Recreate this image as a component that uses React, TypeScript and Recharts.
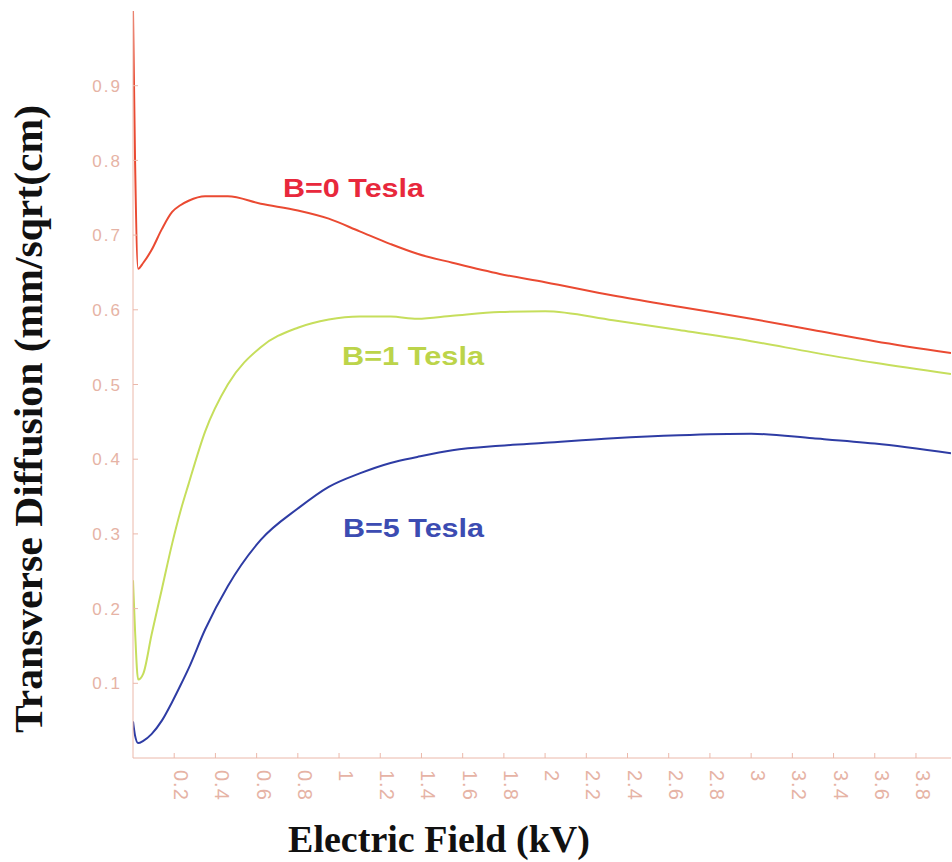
import React from 'react';
import { LineChart, Line, XAxis, YAxis } from 'recharts';

// electric field (kV) sample points, shared by all three curves
const fieldKV = [
  0, 0.01, 0.025, 0.05, 0.09, 0.14, 0.19, 0.23, 0.27, 0.35, 0.46, 0.62, 0.8, 0.95,
  1.1, 1.25, 1.38, 1.55, 1.78, 2.0, 2.33, 2.65, 3.0, 3.3, 3.6, 3.97,
];

const diffB0 = [
  1.0, 0.8, 0.655, 0.663, 0.68, 0.708, 0.731, 0.74, 0.746, 0.752, 0.752, 0.742, 0.733, 0.722,
  0.705, 0.688, 0.675, 0.663, 0.648, 0.637, 0.619, 0.604, 0.588, 0.573, 0.558, 0.542,
];

const diffB1 = [
  0.238, 0.17, 0.105, 0.113, 0.165, 0.226, 0.287, 0.33, 0.367, 0.437, 0.5, 0.55, 0.576, 0.587,
  0.591, 0.591, 0.588, 0.592, 0.597, 0.598, 0.586, 0.573, 0.558, 0.543, 0.529, 0.514,
];

const diffB5 = [
  0.049, 0.03, 0.02, 0.023, 0.032, 0.05, 0.075, 0.097, 0.12, 0.172, 0.23, 0.292, 0.334, 0.363,
  0.381, 0.395, 0.403, 0.412, 0.418, 0.422, 0.428, 0.432, 0.434, 0.428, 0.421, 0.408,
];

const xTicks = [
  0.2, 0.4, 0.6, 0.8, 1, 1.2, 1.4, 1.6, 1.8, 2, 2.2, 2.4, 2.6, 2.8, 3, 3.2, 3.4, 3.6, 3.8,
];
const yTicks = [0.1, 0.2, 0.3, 0.4, 0.5, 0.6, 0.7, 0.8, 0.9];

const data = fieldKV.map((f, i) => ({
  field: f,
  b0: diffB0[i],
  b1: diffB1[i],
  b5: diffB5[i],
}));

const axisColor = '#ebb8aa';
const tickTextColor = '#e6b3a5';

const BottomTick = (props: any) => {
  const { x, y, payload } = props;
  const label = String(Number(payload.value.toFixed(1)));
  return (
    <g>
      <line x1={x} x2={x} y1={y - 12} y2={y - 17} stroke={axisColor} />
      <text
        x={x}
        y={y}
        transform={`rotate(90, ${x}, ${y})`}
        textAnchor="start"
        fontSize={20}
        fontFamily="Liberation Sans, Arial, sans-serif"
        fill={tickTextColor}
        letterSpacing={1}
      >
        {label}
      </text>
    </g>
  );
};

const TopTick = (props: any) => {
  const { x, y } = props;
  return <line x1={x} x2={x} y1={y} y2={y + 5} stroke={axisColor} />;
};

const LeftTick = (props: any) => {
  const { x, y, payload } = props;
  return (
    <g>
      <line x1={x + 11} x2={x + 16} y1={y} y2={y} stroke={axisColor} />
      <text
        x={x}
        y={y}
        dy="0.36em"
        textAnchor="end"
        fontSize={17}
        fontFamily="Liberation Sans, Arial, sans-serif"
        fill={tickTextColor}
        letterSpacing={2}
      >
        {payload.value.toFixed(1)}
      </text>
    </g>
  );
};

export default function App() {
  return (
    <div
      style={{
        position: 'absolute',
        left: 0,
        top: 0,
        width: 952,
        height: 862,
        overflow: 'hidden',
        background: '#fff',
      }}
    >
      <LineChart
        width={952}
        height={862}
        data={data}
        margin={{ top: 11, right: 1, left: 73, bottom: 74 }}
      >
        <XAxis
          dataKey="field"
          type="number"
          domain={[0, 3.97]}
          ticks={xTicks}
          allowDataOverflow
          height={30}
          tickSize={0}
          tickMargin={12}
          tick={<BottomTick />}
          axisLine={{ stroke: axisColor }}
          tickLine={false}
          interval={0}
        />
        <XAxis
          xAxisId="top"
          orientation="top"
          dataKey="field"
          type="number"
          domain={[0, 3.97]}
          ticks={xTicks}
          allowDataOverflow
          height={0}
          tickSize={0}
          tickMargin={0}
          tick={<TopTick />}
          axisLine={{ stroke: axisColor }}
          tickLine={false}
          interval={0}
        />
        <YAxis
          type="number"
          domain={[0, 1]}
          ticks={yTicks}
          allowDataOverflow
          width={60}
          tickSize={0}
          tickMargin={11}
          tick={<LeftTick />}
          axisLine={{ stroke: axisColor }}
          tickLine={false}
          interval={0}
        />
        <Line
          type="monotone"
          dataKey="b0"
          stroke="#ea4a32"
          strokeWidth={2}
          dot={false}
          isAnimationActive={false}
        />
        <Line
          type="monotone"
          dataKey="b1"
          stroke="#c6de5c"
          strokeWidth={2}
          dot={false}
          isAnimationActive={false}
        />
        <Line
          type="monotone"
          dataKey="b5"
          stroke="#2e3ca4"
          strokeWidth={2}
          dot={false}
          isAnimationActive={false}
        />
      </LineChart>
      <svg
        width={952}
        height={862}
        style={{ position: 'absolute', left: 0, top: 0, pointerEvents: 'none' }}
      >
        <g fontFamily="Liberation Sans, Arial, sans-serif" fontSize={25} fontWeight="bold">
          <text x={283} y={197} fill="#e8283c" textLength={141} lengthAdjust="spacingAndGlyphs">
            B=0 Tesla
          </text>
          <text x={342} y={365} fill="#bcd44a" textLength={142} lengthAdjust="spacingAndGlyphs">
            B=1 Tesla
          </text>
          <text x={343} y={537} fill="#3c4cb2" textLength={141} lengthAdjust="spacingAndGlyphs">
            B=5 Tesla
          </text>
        </g>
        <g fontFamily="Liberation Serif, Times New Roman, serif" fontWeight="bold" fill="#111">
          <text
            x={42}
            y={419}
            transform="rotate(-90, 42, 419)"
            textAnchor="middle"
            fontSize={40}
            textLength={628}
            lengthAdjust="spacingAndGlyphs"
          >
            Transverse Diffusion (mm/sqrt(cm)
          </text>
          <text x={439} y={852} textAnchor="middle" fontSize={38}>
            Electric Field (kV)
          </text>
        </g>
      </svg>
    </div>
  );
}
